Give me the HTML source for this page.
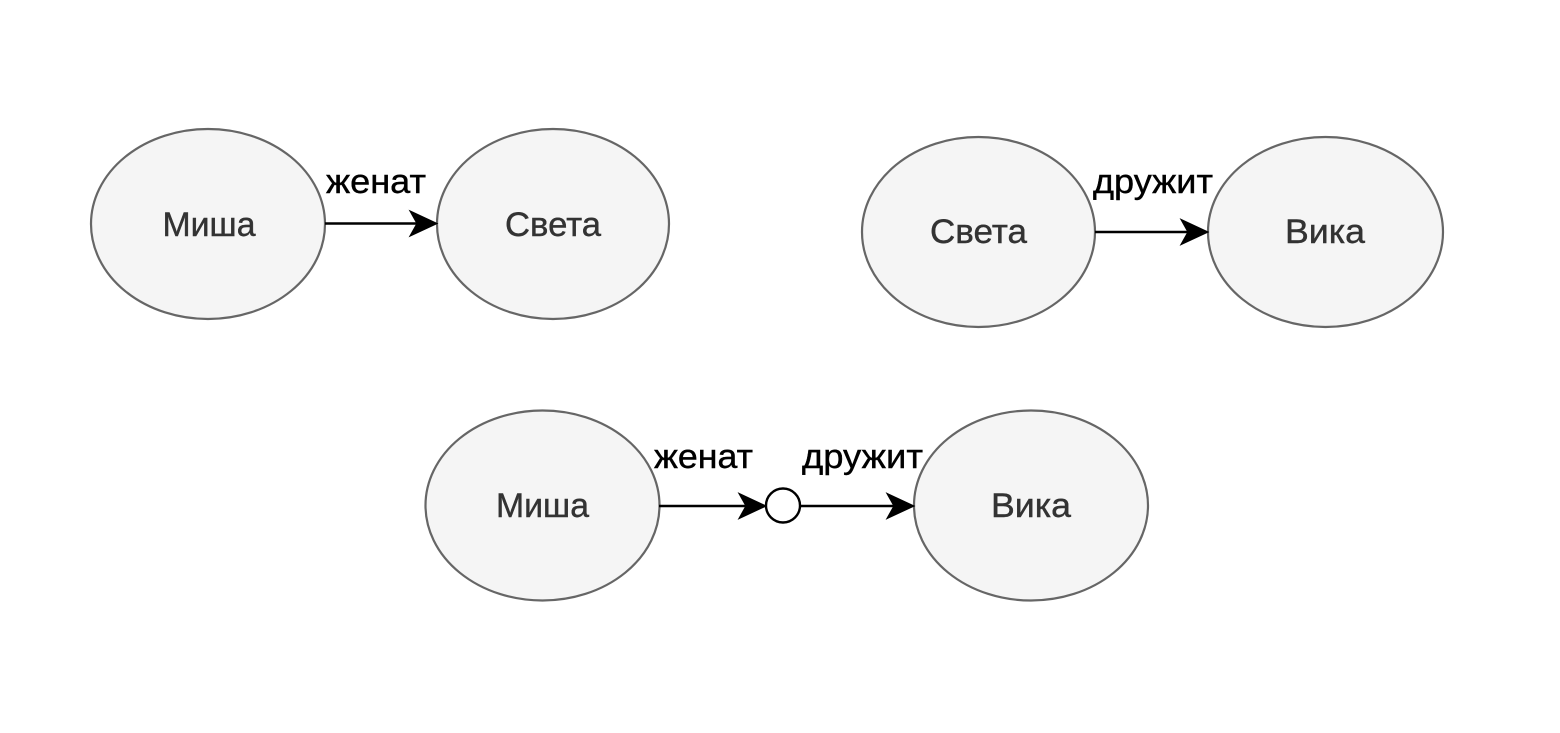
<!DOCTYPE html>
<html>
<head>
<meta charset="utf-8">
<style>
  html, body { margin: 0; padding: 0; background: #ffffff; }
  svg { display: block; }
  .node { fill: #f5f5f5; stroke: #666666; stroke-width: 2.2; }
  .nt { font-family: "Liberation Sans", "Noto Sans CJK SC", sans-serif; font-size: 34px; fill: #333333; stroke: #333333; stroke-width: 0.4; text-anchor: middle; }
  .lt { font-family: "Liberation Sans", "Noto Sans CJK SC", sans-serif; font-size: 34px; fill: #000000; stroke: #000000; stroke-width: 0.4; }
  .edge { stroke: #000000; stroke-width: 2.4; fill: none; }
  .ah { fill: #000000; stroke: #000000; stroke-width: 1.2; stroke-linejoin: miter; }
</style>
</head>
<body>
<svg width="1560" height="733" viewBox="0 0 1560 733" xmlns="http://www.w3.org/2000/svg">
  <rect width="1560" height="733" fill="#ffffff"/>

  <!-- Group 1 -->
  <ellipse class="node" cx="208" cy="224" rx="117" ry="95"/>
  <text class="nt" x="209" y="236" textLength="93" lengthAdjust="spacingAndGlyphs">Миша</text>
  <ellipse class="node" cx="553" cy="224" rx="116" ry="95"/>
  <text class="nt" x="553" y="236" textLength="96" lengthAdjust="spacingAndGlyphs">Света</text>
  <line class="edge" x1="325" y1="223.5" x2="420" y2="223.5"/>
  <path class="ah" d="M437,223.5 L410,211 L417,223.5 L410,236 Z"/>
  <text class="lt" x="326" y="193" textLength="100" lengthAdjust="spacingAndGlyphs">женат</text>

  <!-- Group 2 -->
  <ellipse class="node" cx="978.5" cy="232" rx="116.5" ry="95"/>
  <text class="nt" x="978.5" y="243" textLength="97" lengthAdjust="spacingAndGlyphs">Света</text>
  <ellipse class="node" cx="1325.5" cy="232" rx="117.5" ry="95"/>
  <text class="nt" x="1325" y="243" textLength="80" lengthAdjust="spacingAndGlyphs">Вика</text>
  <line class="edge" x1="1095" y1="232" x2="1191" y2="232"/>
  <path class="ah" d="M1208,232 L1181,219.5 L1188,232 L1181,244.5 Z"/>
  <text class="lt" x="1093" y="193" textLength="120" lengthAdjust="spacingAndGlyphs">дружит</text>

  <!-- Group 3 -->
  <ellipse class="node" cx="542.5" cy="505.5" rx="117" ry="95"/>
  <text class="nt" x="542.5" y="517" textLength="93" lengthAdjust="spacingAndGlyphs">Миша</text>
  <ellipse class="node" cx="1031" cy="505.5" rx="117" ry="95"/>
  <text class="nt" x="1031" y="517" textLength="80" lengthAdjust="spacingAndGlyphs">Вика</text>
  <line class="edge" x1="659" y1="506" x2="749" y2="506"/>
  <path class="ah" d="M766,506 L739,493.5 L746,506 L739,518.5 Z"/>
  <circle cx="783" cy="505.5" r="17" fill="#ffffff" stroke="#000000" stroke-width="2.4"/>
  <line class="edge" x1="800" y1="506" x2="897" y2="506"/>
  <path class="ah" d="M914,506 L887,493.5 L894,506 L887,518.5 Z"/>
  <text class="lt" x="654" y="468" textLength="99" lengthAdjust="spacingAndGlyphs">женат</text>
  <text class="lt" x="802" y="468" textLength="121" lengthAdjust="spacingAndGlyphs">дружит</text>
</svg>
</body>
</html>
